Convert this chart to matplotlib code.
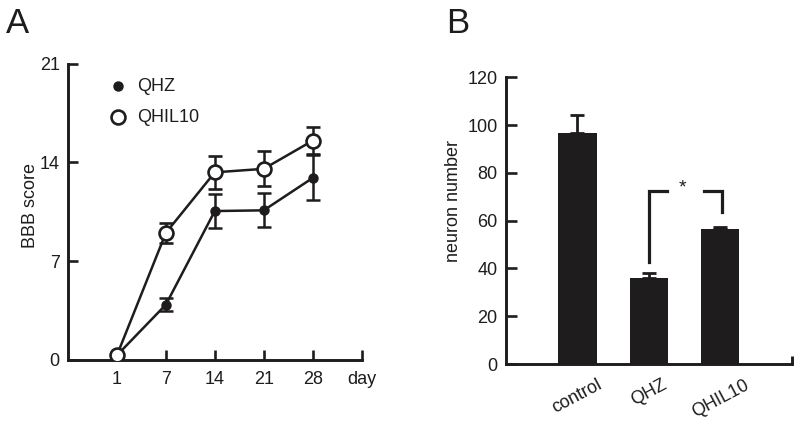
import matplotlib
matplotlib.use("Agg")
import matplotlib.pyplot as plt
import numpy as np

plt.rcParams['font.family'] = ['Liberation Sans', 'DejaVu Sans']

# ---- Panel A data ----
days = ["1", "7", "14", "21", "28"]
qhz = [0.3, 3.9, 10.55, 10.6, 12.9]
qhz_err = [0.0, 0.45, 1.2, 1.2, 1.6]
qhil10 = [0.3, 9.0, 13.3, 13.55, 15.55]
qhil10_err = [0.0, 0.7, 1.15, 1.25, 0.95]
a_yticks = [0, 7, 14, 21]

# ---- Panel B data ----
groups = ["control", "QHZ", "QHIL10"]
neurons = [96.8, 35.9, 56.4]
neurons_err = [7.4, 2.0, 1.0]
b_yticks = [0, 20, 40, 60, 80, 100, 120]

ink = "#1e1c1d"
fig = plt.figure(figsize=(8.0, 4.28), dpi=100)

# ---------------- Panel A ----------------
axA = fig.add_axes([0.085, 0.160, 0.367, 0.6905])
x = np.arange(len(days))
axA.errorbar(x, qhz, yerr=qhz_err, color=ink, lw=1.8, marker='o', ms=6.5,
             mfc=ink, mec=ink, capsize=5, capthick=1.8, elinewidth=1.8, zorder=3)
axA.errorbar(x, qhil10, yerr=qhil10_err, color=ink, lw=1.8, marker='o', ms=10,
             mfc='white', mec=ink, mew=1.9, capsize=5, capthick=1.8,
             elinewidth=1.8, zorder=4)
axA.set_xlim(-1, 5)
axA.set_ylim(0, 21)
axA.set_xticks(list(x) + [5])
axA.set_xticklabels(days + ["day"])
axA.set_yticks(a_yticks)
axA.tick_params(axis='both', direction='in', length=7, width=1.9, labelsize=13,
                color=ink, labelcolor=ink)
axA.tick_params(axis='x', pad=8)
axA.tick_params(axis='y', pad=6)
for s in ['top', 'right']:
    axA.spines[s].set_visible(False)
for s in ['left', 'bottom']:
    axA.spines[s].set_linewidth(2.1)
    axA.spines[s].set_color(ink)
axA.set_ylabel("BBB score", fontsize=13, color=ink, labelpad=6)
axA.yaxis.set_label_coords(-0.10, 0.52)

# legend (manual, in axes coords)
axA.plot([0.17], [0.925], transform=axA.transAxes, marker='o', ms=6.5,
         mfc=ink, mec=ink, ls='none', clip_on=False)
axA.plot([0.17], [0.82], transform=axA.transAxes, marker='o', ms=10,
         mfc='white', mec=ink, mew=1.9, ls='none', clip_on=False)
axA.text(0.235, 0.925, "QHZ", transform=axA.transAxes, fontsize=13,
         va='center', ha='left', color=ink)
axA.text(0.235, 0.82, "QHIL10", transform=axA.transAxes, fontsize=13,
         va='center', ha='left', color=ink)

fig.text(0.008, 0.945, "A", fontsize=25, color=ink, va='center', ha='left')

# ---------------- Panel B ----------------
axB = fig.add_axes([0.6325, 0.1495, 0.357, 0.670])
xb = np.arange(len(groups))
axB.bar(xb, neurons, width=0.54, color=ink, zorder=2)
axB.errorbar(xb, neurons, yerr=[np.zeros(len(neurons)), neurons_err],
             fmt='none', ecolor=ink, elinewidth=2.0, capsize=5, capthick=2.0,
             zorder=3)
axB.set_xlim(-1, 3)
axB.set_ylim(0, 120)
axB.set_yticks(b_yticks)
axB.set_xticks(xb)
axB.set_xticklabels(groups, rotation=28, ha='center', fontsize=13, color=ink)
axB.tick_params(axis='x', length=0, pad=9)
axB.tick_params(axis='y', direction='in', length=8, width=1.9, labelsize=13,
                color=ink, labelcolor=ink, pad=6)
for s in ['top', 'right']:
    axB.spines[s].set_visible(False)
for s in ['left', 'bottom']:
    axB.spines[s].set_linewidth(2.1)
    axB.spines[s].set_color(ink)
# tick at right end of x axis
axB.plot([3, 3], [0, 3.5], color=ink, lw=2.1, clip_on=False, solid_capstyle='butt')
axB.set_ylabel("neuron number", fontsize=13, color=ink, labelpad=6)
axB.yaxis.set_label_coords(-0.155, 0.57)

# significance bracket
yb = 72.5
axB.plot([xb[1], xb[1], xb[1] + 0.26], [42.8, yb, yb], color=ink, lw=2.3,
         solid_joinstyle='miter')
axB.plot([xb[2] - 0.22, xb[2] + 0.02, xb[2] + 0.02], [yb, yb, 63.5], color=ink,
         lw=2.3, solid_joinstyle='miter')
axB.text((xb[1] + xb[2]) / 2 - 0.03, yb + 1, "*", fontsize=14, ha='center',
         va='center', color=ink)

fig.text(0.558, 0.945, "B", fontsize=25, color=ink, va='center', ha='left')

fig.savefig("out.png", dpi=100, facecolor='white')
